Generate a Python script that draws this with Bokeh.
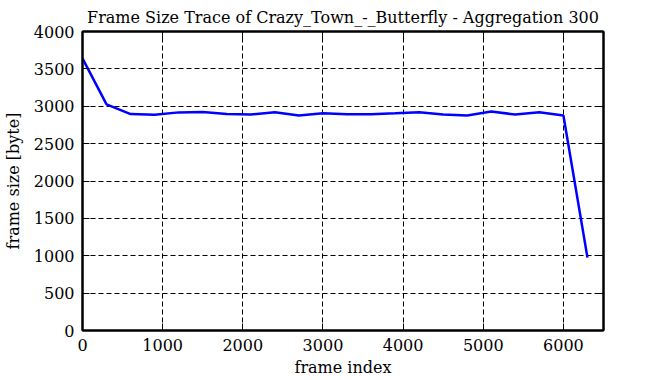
from bokeh.plotting import figure
from bokeh.models import Range1d, LinearAxis, FixedTicker
from bokeh.embed import file_html
from bokeh.resources import INLINE

frame_index = [0, 300, 600, 900, 1200, 1500, 1800, 2100, 2400, 2700, 3000,
               3300, 3600, 3900, 4200, 4500, 4800, 5100, 5400, 5700, 6000, 6300]
frame_size = [3640, 3025, 2895, 2886, 2918, 2922, 2895, 2889, 2920, 2876, 2906,
              2893, 2893, 2906, 2920, 2889, 2876, 2929, 2889, 2920, 2876, 975]
x_ticks = [0, 1000, 2000, 3000, 4000, 5000, 6000]
y_ticks = [0, 500, 1000, 1500, 2000, 2500, 3000, 3500, 4000]

FONT = "DejaVu Serif"

p = figure(width=641, height=380, output_backend="svg", toolbar_location=None,
           title="Frame Size Trace of Crazy_Town_-_Butterfly - Aggregation 300",
           x_range=Range1d(0, 6500), y_range=Range1d(0, 4000),
           min_border_left=82, min_border_right=38, min_border_bottom=50,
           min_border_top=0)

p.title.text_font = FONT
p.title.text_font_size = "16px"
p.title.text_font_style = "normal"
p.title.text_color = "black"
p.title.align = "center"
p.title.offset = 0
p.title.standoff = 10

p.line(frame_index, frame_size, line_color="#0000ff", line_width=2.5)

p.outline_line_color = "black"
p.outline_line_width = 2
p.outline_line_alpha = 1

for ax in (p.xaxis[0], p.yaxis[0]):
    ax.major_label_text_font = FONT
    ax.major_label_text_font_size = "16px"
    ax.axis_label_text_font = FONT
    ax.axis_label_text_font_size = "16px"
    ax.axis_label_text_font_style = "normal"
    ax.axis_label_text_color = "black"
    ax.major_tick_in = 7
    ax.major_tick_out = 0
    ax.minor_tick_in = 0
    ax.minor_tick_out = 0
    ax.axis_line_color = "black"
    ax.axis_line_width = 2
    ax.major_tick_line_color = "black"
    ax.major_tick_line_width = 1
    ax.major_label_text_color = "black"

p.xaxis[0].ticker = FixedTicker(ticks=x_ticks)
p.yaxis[0].ticker = FixedTicker(ticks=y_ticks)
p.xaxis[0].axis_label = "frame index"
p.yaxis[0].axis_label = "frame size [byte]"
p.xaxis[0].major_label_standoff = 8
p.yaxis[0].major_label_standoff = 8
p.xaxis[0].axis_label_standoff = 4
p.yaxis[0].axis_label_standoff = 8

top = LinearAxis(ticker=FixedTicker(ticks=x_ticks), major_label_text_color=None,
                 major_tick_in=7, major_tick_out=0, minor_tick_in=0, minor_tick_out=0,
                 axis_line_color="black", axis_line_width=2)
right = LinearAxis(ticker=FixedTicker(ticks=y_ticks), major_label_text_color=None,
                   major_tick_in=7, major_tick_out=0, minor_tick_in=0, minor_tick_out=0,
                   axis_line_color="black", axis_line_width=2)
p.add_layout(top, "above")
p.add_layout(right, "right")

p.xgrid.ticker = FixedTicker(ticks=x_ticks)
p.ygrid.ticker = FixedTicker(ticks=y_ticks)
for g in (p.xgrid[0], p.ygrid[0]):
    g.grid_line_color = "black"
    g.grid_line_dash = "5 3"
    g.grid_line_width = 1
    g.grid_line_alpha = 1

p.background_fill_color = "white"
p.border_fill_color = "white"

open("out.html", "w").write(file_html(p, INLINE))
